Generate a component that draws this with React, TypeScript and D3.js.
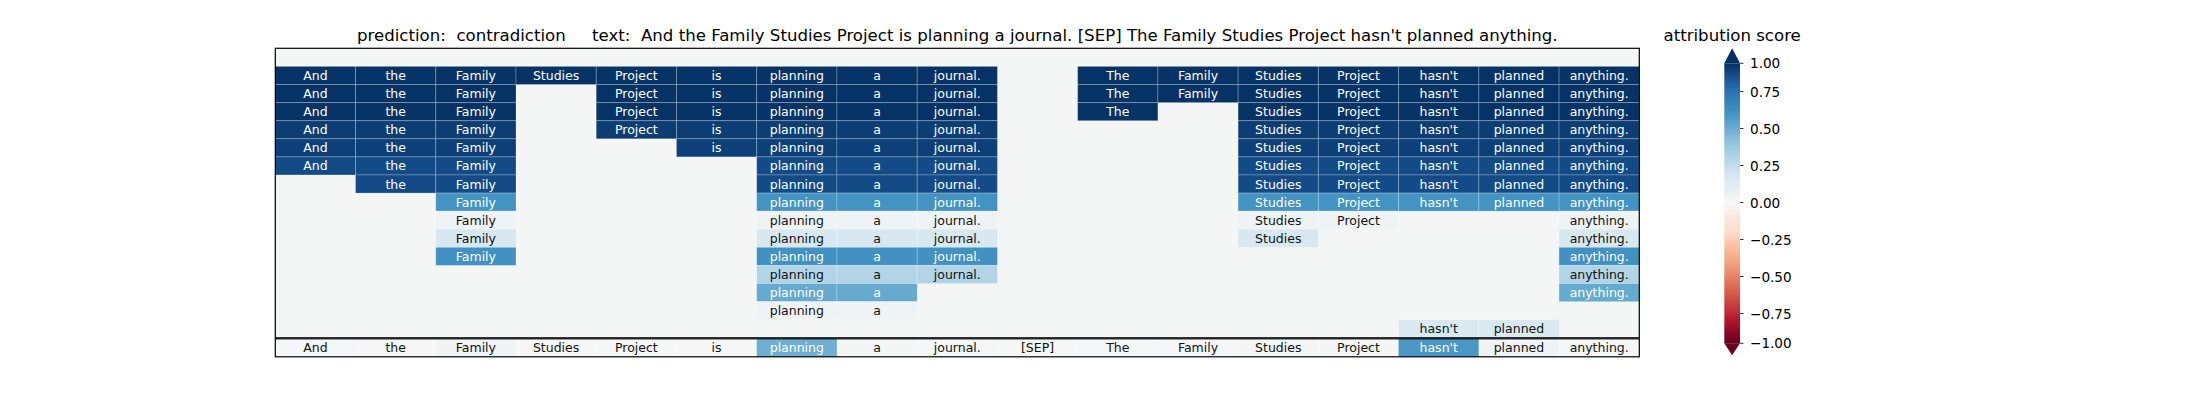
import React from 'react';
import * as d3 from 'd3';

const tokens = ['And', 'the', 'Family', 'Studies', 'Project', 'is', 'planning', 'a', 'journal.', '[SEP]', 'The', 'Family', 'Studies', 'Project', "hasn't", 'planned', 'anything.'];

// token columns present in each explanation row (top to bottom)
const rowTokens: number[][] = [
  [],
  [0, 1, 2, 3, 4, 5, 6, 7, 8, 10, 11, 12, 13, 14, 15, 16],
  [0, 1, 2, 4, 5, 6, 7, 8, 10, 11, 12, 13, 14, 15, 16],
  [0, 1, 2, 4, 5, 6, 7, 8, 10, 12, 13, 14, 15, 16],
  [0, 1, 2, 4, 5, 6, 7, 8, 12, 13, 14, 15, 16],
  [0, 1, 2, 5, 6, 7, 8, 12, 13, 14, 15, 16],
  [0, 1, 2, 6, 7, 8, 12, 13, 14, 15, 16],
  [1, 2, 6, 7, 8, 12, 13, 14, 15, 16],
  [2, 6, 7, 8, 12, 13, 14, 15, 16],
  [2, 6, 7, 8, 12, 13, 16],
  [2, 6, 7, 8, 12, 16],
  [2, 6, 7, 8, 16],
  [6, 7, 8, 16],
  [6, 7, 16],
  [6, 7],
  [14, 15],
];
const rowScores = [0, 0.99, 0.99, 0.99, 0.95, 0.94, 0.9, 0.9, 0.6, 0.05, 0.17, 0.61, 0.3, 0.51, 0.05, 0.16];
const tokenScores = [0.01, 0, 0.03, 0, 0.005, 0, 0.49, 0.015, 0.01, 0.005, 0.01, 0.012, 0.015, 0.015, 0.58, 0.04, 0.012];
const cbTicks = [1, 0.75, 0.5, 0.25, 0, -0.25, -0.5, -0.75, -1];

const titleText = "prediction:  contradiction     text:  And the Family Studies Project is planning a journal. [SEP] The Family Studies Project hasn't planned anything.";
const cbTitle = 'attribution score';

const RDBU = ['#67001f', '#b2182b', '#d6604d', '#f4a582', '#fddbc7', '#f7f7f7', '#d1e5f0', '#92c5de', '#4393c3', '#2166ac', '#053061'];
const color = d3.scaleLinear<string>()
  .domain(d3.range(11).map((i) => -1 + (2 * i) / 10))
  .range(RDBU)
  .interpolate(d3.interpolateRgb)
  .clamp(true);

const FONT = 'DejaVu Sans, sans-serif';

export default function App() {
  const left = 275.3, right = 1639.3;
  const x = d3.scaleBand<number>().domain(d3.range(tokens.length)).range([left, right]);
  const yMain = d3.scaleBand<number>().domain(d3.range(rowTokens.length)).range([48.3, 337.8]);
  const bTop = 338.8, bBot = 356.8;

  const cbX0 = 1724.3, cbX1 = 1740;
  const cbY = d3.scaleLinear().domain([-1, -0.75, 0.75, 1]).range([343.3, 313.5, 91.5, 63.3]);
  const cbTop = cbY(1), cbBot = cbY(-1);
  // from top (v = 1) to bottom (v = -1) so offsets increase
  const stops = d3.range(0, 41).map((i) => 1 - i * 0.05);
  const fmt = d3.format('.2f');

  const cells: { col: number; row: number; v: number }[] = [];
  rowTokens.forEach((cols, r) => cols.forEach((c) => cells.push({ col: c, row: r, v: rowScores[r] })));

  const textFill = (v: number) => (Math.abs(v) > 0.4 ? '#ffffff' : '#111111');

  return (
    <svg width={2200} height={400} style={{ position: 'absolute', left: 0, top: 0, background: '#fff' }}>
      <defs>
        <linearGradient id="cbgrad" gradientUnits="userSpaceOnUse" x1={0} y1={cbTop} x2={0} y2={cbBot}>
          {stops.map((v, i) => (
            <stop key={i} offset={Math.max(0, Math.min(1, (cbY(v) - cbTop) / (cbBot - cbTop)))} stopColor={color(v)} />
          ))}
        </linearGradient>
      </defs>
      <text x={(left + right) / 2} y={40.5} textAnchor="middle" fontFamily={FONT} fontSize={16.6} style={{ whiteSpace: 'pre' }} fill="#000">
        {titleText}
      </text>
      {/* main heatmap */}
      <rect x={left} y={48.3} width={right - left} height={337.8 - 48.3} fill="#f4f6f6" />
      {cells.map((d, i) => (
        <g key={i}>
          <rect x={x(d.col)} y={yMain(d.row)} width={x.bandwidth()} height={yMain.bandwidth()} fill={color(d.v)} stroke="#ffffff" strokeOpacity={0.22} strokeWidth={1} />
          <text x={(x(d.col) as number) + x.bandwidth() / 2} y={(yMain(d.row) as number) + yMain.bandwidth() / 2} textAnchor="middle" dominantBaseline="central" fontFamily={FONT} fontSize={12.5} fill={textFill(d.v)}>
            {tokens[d.col]}
          </text>
        </g>
      ))}
      <rect x={left} y={48.3} width={right - left} height={337.8 - 48.3} fill="none" stroke="#000" strokeWidth={1.2} />
      {/* bottom token row */}
      {tokens.map((t, c) => (
        <g key={'b' + c}>
          <rect x={x(c)} y={bTop} width={x.bandwidth()} height={bBot - bTop} fill={color(tokenScores[c])} />
          <text x={(x(c) as number) + x.bandwidth() / 2} y={(bTop + bBot) / 2} textAnchor="middle" dominantBaseline="central" fontFamily={FONT} fontSize={12.5} fill={textFill(tokenScores[c])}>
            {t}
          </text>
        </g>
      ))}
      <rect x={left} y={bTop} width={right - left} height={bBot - bTop} fill="none" stroke="#000" strokeWidth={1.2} />
      {/* colorbar */}
      <text x={(cbX0 + cbX1) / 2} y={40.5} textAnchor="middle" fontFamily={FONT} fontSize={16.6} fill="#000">{cbTitle}</text>
      <rect x={cbX0} y={cbTop} width={cbX1 - cbX0} height={cbBot - cbTop} fill="url(#cbgrad)" />
      <polygon points={`${cbX0},${cbTop} ${cbX1},${cbTop} ${(cbX0 + cbX1) / 2},${cbTop - 15}`} fill={color(1)} />
      <polygon points={`${cbX0},${cbBot} ${cbX1},${cbBot} ${(cbX0 + cbX1) / 2},${cbBot + 12}`} fill={color(-1)} />
      {cbTicks.map((t) => (
        <g key={'t' + t}>
          <line x1={cbX1} x2={cbX1 + 3.5} y1={cbY(t)} y2={cbY(t)} stroke="#000" strokeWidth={0.8} />
          <text x={cbX1 + 10} y={cbY(t)} dominantBaseline="central" fontFamily={FONT} fontSize={13.6} fill="#000">{fmt(t)}</text>
        </g>
      ))}
    </svg>
  );
}
